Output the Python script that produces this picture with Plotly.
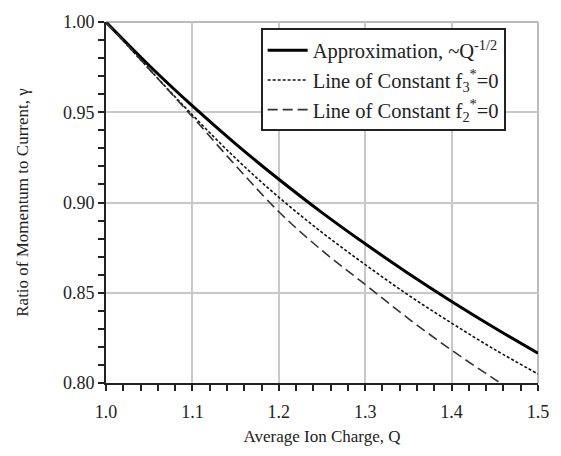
import plotly.graph_objects as go

Q = [1.00, 1.05, 1.10, 1.15, 1.20, 1.25, 1.30, 1.35, 1.40, 1.45, 1.50]
approx = [1.0000, 0.9759, 0.9535, 0.9325, 0.9129, 0.8944, 0.8771, 0.8607, 0.8452, 0.8305, 0.8165]
f3_zero = [1.0000, 0.9739, 0.9485, 0.9245, 0.9029, 0.8834, 0.8656, 0.8487, 0.8332, 0.8185, 0.8050]
f2_zero = [1.0000, 0.9739, 0.9475, 0.9205, 0.8949, 0.8734, 0.8546, 0.8357, 0.8182, 0.8020, 0.7865]

names = ["Approximation, ~Q<sup>-1/2</sup>",
         "Line of Constant f<sub>3</sub><sup>*</sup>=0",
         "Line of Constant f<sub>2</sub><sup>*</sup>=0"]

FONT = "Liberation Serif, Times New Roman, serif"

fig = go.Figure()
fig.add_trace(go.Scatter(x=Q, y=approx, mode="lines", name=names[0],
                         line=dict(color="black", width=3, shape="spline")))
fig.add_trace(go.Scatter(x=Q, y=f3_zero, mode="lines", name=names[1],
                         line=dict(color="#111111", width=1.6, dash="3px,2px", shape="spline")))
fig.add_trace(go.Scatter(x=Q, y=f2_zero, mode="lines", name=names[2],
                         line=dict(color="#333333", width=1.6, dash="10px,5px", shape="spline")))

fig.update_layout(
    width=561, height=456,
    margin=dict(l=106, r=19, t=15, b=73),
    paper_bgcolor="white", plot_bgcolor="white",
    font=dict(family=FONT, color="#222222", size=18),
    showlegend=True,
    legend=dict(x=0.358, y=0.982, xanchor="left", yanchor="top",
                bgcolor="white", bordercolor="#222222", borderwidth=2,
                font=dict(family=FONT, size=20.5, color="#222222"),
                tracegroupgap=0, itemwidth=40),
    shapes=[
        dict(type="line", xref="paper", yref="paper", x0=0, x1=1, y0=1, y1=1,
             line=dict(color="#bbbbbb", width=2), layer="below"),
        dict(type="line", xref="paper", yref="paper", x0=1, x1=1, y0=0, y1=1,
             line=dict(color="#bbbbbb", width=2), layer="below"),
    ],
)

fig.update_xaxes(
    range=[1.0, 1.5], dtick=0.1, tick0=1.0, tickformat=".1f",
    showline=True, linecolor="#222222", linewidth=2,
    ticks="outside", ticklen=6, tickwidth=2, tickcolor="#222222",
    showgrid=True, gridcolor="#c8c8c8", gridwidth=1.5,
    zeroline=False, ticklabelstandoff=5,
    minor=dict(dtick=0.02, ticks="outside", ticklen=6, tickwidth=2, tickcolor="#222222", showgrid=False),
    title=dict(text="Average Ion Charge, Q", font=dict(family=FONT, size=17), standoff=10),
    tickfont=dict(family=FONT, size=18),
)
fig.update_yaxes(
    range=[0.80, 1.00], dtick=0.05, tick0=0.80, tickformat=".2f",
    showline=True, linecolor="#222222", linewidth=2,
    ticks="outside", ticklen=6, tickwidth=2, tickcolor="#222222",
    showgrid=True, gridcolor="#c8c8c8", gridwidth=1.5,
    zeroline=False,
    minor=dict(dtick=0.01, ticks="outside", ticklen=6, tickwidth=2, tickcolor="#222222", showgrid=False),
    title=dict(text="Ratio of Momentum to Current, γ", font=dict(family=FONT, size=17), standoff=30),
    tickfont=dict(family=FONT, size=18),
)

fig.write_html("out.html")
